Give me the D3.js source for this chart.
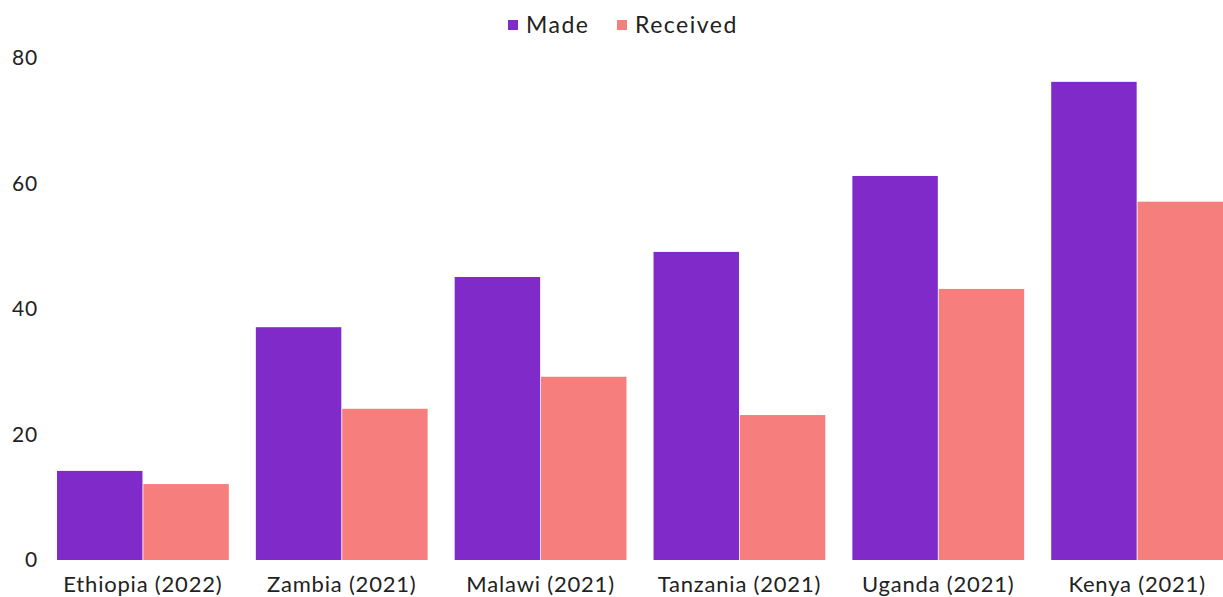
<!DOCTYPE html>
<html>
<head>
<meta charset="utf-8">
<script src="https://d3js.org/d3.v7.min.js"></script>
<style>
  body { margin: 0; background: #fff; }
  text { font-family: Lato, "Open Sans", sans-serif; fill: #222; }
</style>
</head>
<body>
<div id="chart"></div>
<script>
// dados
var paises = ["Ethiopia (2022)", "Zambia (2021)", "Malawi (2021)", "Tanzania (2021)", "Uganda (2021)", "Kenya (2021)"];
var made = [14.2, 37.1, 45.1, 49.1, 61.2, 76.2];
var received = [12.1, 24.1, 29.2, 23.1, 43.2, 57.1];
var series = ["Made", "Received"];
var yTicks = [0, 20, 40, 60, 80];
var cores = ["#802bc9", "#f67e7c"];

var largura = 1223, altura = 597;
var margin = {top: 58, right: 0, bottom: 37, left: 57};

var svg = d3.select("#chart").append("svg")
  .attr("width", largura)
  .attr("height", altura);

var dados = paises.map((p, i) => ({pais: p, Made: made[i], Received: received[i]}));

var x0 = d3.scaleBand()
  .domain(paises)
  .range([margin.left, largura - margin.right])
  .paddingInner(0.136)
  .paddingOuter(0);

var x1 = d3.scaleBand()
  .domain(series)
  .range([0, x0.bandwidth()])
  .paddingInner(0.01);

var y = d3.scaleLinear()
  .domain([0, 80])
  .range([altura - margin.bottom, margin.top]);

var cor = d3.scaleOrdinal().domain(series).range(cores);

// barras
svg.append("g").selectAll("g")
  .data(dados)
  .join("g")
    .attr("transform", d => "translate(" + x0(d.pais) + ",0)")
  .selectAll("rect")
  .data(d => series.map(s => ({serie: s, valor: d[s]})))
  .join("rect")
    .attr("x", d => x1(d.serie))
    .attr("width", x1.bandwidth())
    .attr("y", d => y(d.valor))
    .attr("height", d => y(0) - y(d.valor))
    .attr("fill", d => cor(d.serie));

// eixo y (so os textos)
var eixoY = svg.append("g")
  .attr("transform", "translate(38,0)")
  .call(d3.axisLeft(y).tickValues(yTicks).tickSize(0).tickPadding(0));
eixoY.select(".domain").remove();
eixoY.selectAll("text")
  .style("font-size", "21px")
  .style("letter-spacing", "0.8px")
  .attr("fill", "#222");

// eixo x
var eixoX = svg.append("g")
  .attr("transform", "translate(0," + y(0) + ")")
  .call(d3.axisBottom(x0).tickSize(0).tickPadding(16));
eixoX.select(".domain").remove();
eixoX.selectAll("text")
  .style("font-size", "22px")
  .style("letter-spacing", "0.8px")
  .attr("fill", "#222");

// legenda
var legenda = svg.append("g").attr("transform", "translate(508,25)");
var posLegenda = [0, 109];
var itens = legenda.selectAll("g")
  .data(series)
  .join("g")
    .attr("transform", (d, i) => "translate(" + posLegenda[i] + ",0)");
itens.append("rect")
  .attr("x", 0).attr("y", -5)
  .attr("width", 10).attr("height", 10)
  .attr("fill", d => cor(d));
itens.append("text")
  .attr("x", 18)
  .attr("dy", "0.35em")
  .style("font-size", "23px")
  .style("letter-spacing", "1.5px")
  .text(d => d);
</script>
</body>
</html>
